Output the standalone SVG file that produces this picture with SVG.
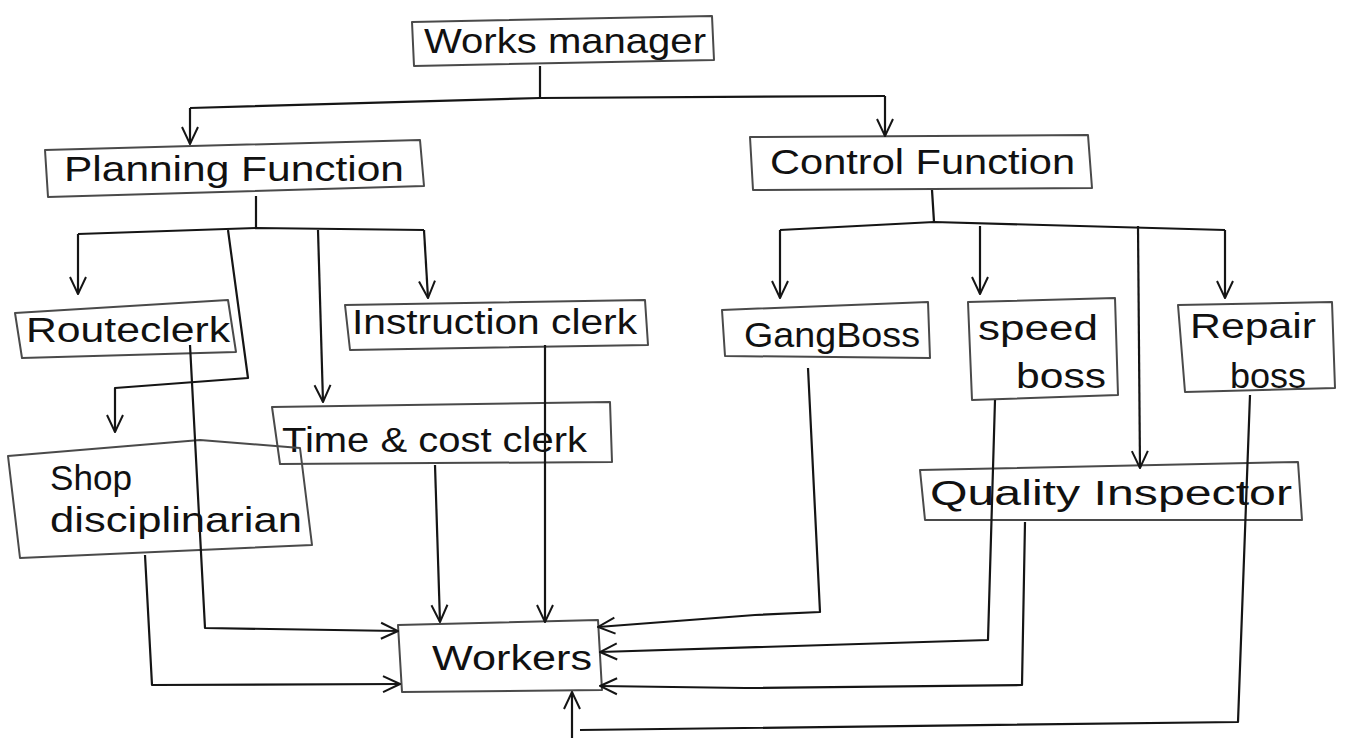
<svg xmlns="http://www.w3.org/2000/svg" width="1350" height="742" viewBox="0 0 1350 742">
  <style>
    .box { fill: none; stroke: #4a4a4a; stroke-width: 2; stroke-linejoin: round; }
    .lbl { font-family: "Liberation Sans", "DejaVu Sans", sans-serif; font-size: 35px; fill: #111; }
    .wire { fill: none; stroke: #151515; stroke-width: 2.2; stroke-linejoin: round; }
    .arr { marker-end: url(#vhead); }
  </style>
  <defs>
    <marker id="vhead" viewBox="0 0 20 20" refX="19" refY="10" markerWidth="20" markerHeight="20" markerUnits="userSpaceOnUse" orient="auto">
      <path d="M2,2 L19,10 L2,18" fill="none" stroke="#151515" stroke-width="2"/>
    </marker>
  </defs>
  <rect width="1350" height="742" fill="#ffffff"/>

  <!-- hierarchy nodes -->
  <g id="works-manager">
    <path class="box" d="M412,22 L712,16 L714,60 L414,66 Z"/>
    <text class="lbl" x="424" y="53" textLength="282" lengthAdjust="spacingAndGlyphs">Works manager</text>
  </g>
  <g id="planning-function">
    <path class="box" d="M45,150 L420,140 L424,186 L48,197 Z"/>
    <text class="lbl" x="64" y="181" textLength="340" lengthAdjust="spacingAndGlyphs">Planning Function</text>
  </g>
  <g id="control-function">
    <path class="box" d="M750,137 L1088,135 L1092,188 L753,190 Z"/>
    <text class="lbl" x="770" y="174" textLength="305" lengthAdjust="spacingAndGlyphs">Control Function</text>
  </g>
  <g id="route-clerk">
    <path class="box" d="M15,313 L228,300 L236,352 L22,358 Z"/>
    <text class="lbl" x="26" y="342" textLength="204" lengthAdjust="spacingAndGlyphs">Routeclerk</text>
  </g>
  <g id="instruction-clerk">
    <path class="box" d="M345,305 L645,300 L648,345 L350,350 Z"/>
    <text class="lbl" x="352" y="334" textLength="285" lengthAdjust="spacingAndGlyphs">Instruction clerk</text>
  </g>
  <g id="time-cost-clerk">
    <path class="box" d="M272,407 L610,402 L612,462 L280,464 Z"/>
    <text class="lbl" x="282" y="452" textLength="305" lengthAdjust="spacingAndGlyphs">Time &amp; cost clerk</text>
  </g>
  <g id="shop-disciplinarian">
    <path class="box" d="M8,456 L200,440 L300,448 L312,545 L20,558 Z"/>
    <text class="lbl" x="50" y="490" textLength="82" lengthAdjust="spacingAndGlyphs">Shop</text>
    <text class="lbl" x="50" y="532" textLength="252" lengthAdjust="spacingAndGlyphs">disciplinarian</text>
  </g>
  <g id="gang-boss">
    <path class="box" d="M722,310 L928,302 L930,358 L725,356 Z"/>
    <text class="lbl" x="744" y="347" textLength="176" lengthAdjust="spacingAndGlyphs">GangBoss</text>
  </g>
  <g id="speed-boss">
    <path class="box" d="M968,302 L1115,298 L1118,395 L972,400 Z"/>
    <text class="lbl" x="978" y="340" textLength="120" lengthAdjust="spacingAndGlyphs">speed</text>
    <text class="lbl" x="1016" y="388" textLength="90" lengthAdjust="spacingAndGlyphs">boss</text>
  </g>
  <g id="repair-boss">
    <path class="box" d="M1178,305 L1332,302 L1335,388 L1185,392 Z"/>
    <text class="lbl" x="1190" y="338" textLength="126" lengthAdjust="spacingAndGlyphs">Repair</text>
    <text class="lbl" x="1230" y="388" textLength="76" lengthAdjust="spacingAndGlyphs">boss</text>
  </g>
  <g id="quality-inspector">
    <path class="box" d="M920,470 L1298,462 L1302,520 L925,520 Z"/>
    <text class="lbl" x="930" y="505" textLength="362" lengthAdjust="spacingAndGlyphs">Quality Inspector</text>
  </g>
  <g id="workers">
    <path class="box" d="M398,625 L598,620 L602,690 L402,692 Z"/>
    <text class="lbl" x="432" y="670" textLength="160" lengthAdjust="spacingAndGlyphs">Workers</text>
  </g>

  <!-- connectors -->
  <g id="connectors">
    <!-- works manager split -->
    <path class="wire" d="M540,66 L540,98"/>
    <path class="wire" d="M190,108 L540,98 L885,96"/>
    <path class="wire arr" d="M190,108 L190,144"/>
    <path class="wire arr" d="M885,96 L885,136"/>

    <!-- planning branches -->
    <path class="wire" d="M256,196 L256,228"/>
    <path class="wire" d="M78,234 L256,228 L424,230"/>
    <path class="wire arr" d="M78,234 L78,294"/>
    <path class="wire arr" d="M424,230 L428,298"/>
    <path class="wire arr" d="M228,230 L248,378 L115,388 L115,432"/>
    <path class="wire arr" d="M318,230 L323,402"/>

    <!-- control branches -->
    <path class="wire" d="M932,190 L934,222"/>
    <path class="wire" d="M780,230 L934,222 L1225,230"/>
    <path class="wire arr" d="M780,230 L780,298"/>
    <path class="wire arr" d="M980,226 L980,294"/>
    <path class="wire arr" d="M1138,226 L1140,468"/>
    <path class="wire arr" d="M1225,230 L1225,298"/>

    <!-- lines into workers -->
    <path class="wire arr" d="M190,345 L205,628 L398,631"/>
    <path class="wire arr" d="M145,555 L152,685 L400,684"/>
    <path class="wire arr" d="M435,465 L440,622"/>
    <path class="wire arr" d="M545,345 L545,622"/>
    <path class="wire arr" d="M808,368 L820,612 L755,615 L598,627"/>
    <path class="wire arr" d="M995,400 L988,640 L600,652"/>
    <path class="wire arr" d="M1025,522 L1022,685 L745,688 L600,686"/>
    <path class="wire" d="M1250,395 L1238,722 L580,730"/>
    <path class="wire arr" d="M572,738 L572,692"/>
  </g>
</svg>
